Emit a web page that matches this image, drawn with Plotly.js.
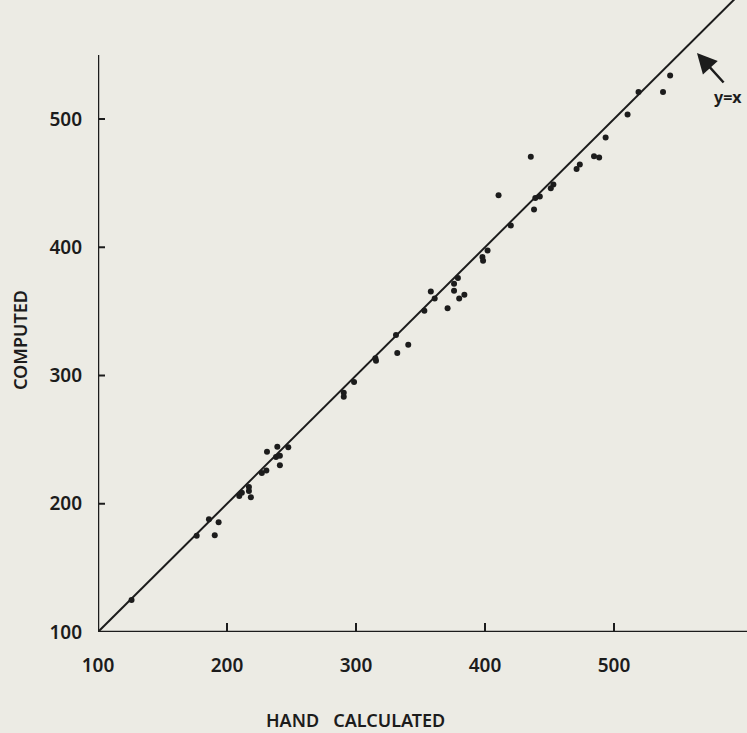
<!DOCTYPE html>
<html>
<head>
<meta charset="utf-8">
<script src="https://cdn.plot.ly/plotly-3.0.1.min.js"></script>
<style>
  html, body { margin: 0; padding: 0; background: #ecebe4; }
  #chart { width: 747px; height: 733px; }
</style>
</head>
<body>
<div id="chart"></div>
<script>
// Hand-calculated values (x) and computed values (y)
const handCalculated = [
  126, 176.5, 186, 193.5, 190.5, 209.5, 211.5, 217, 217, 218.5,
  227, 230.5, 231, 239, 238, 241, 241, 247.5, 290.5, 290.5,
  298.5, 315, 315.5, 331, 332, 340.5, 353, 358, 361, 371,
  376, 376, 380, 384, 379, 398, 398.5, 402, 410.5, 420,
  438, 439, 442.5, 453, 451, 435.5, 471, 473.5, 484.5, 488.5,
  493.5, 510.5, 519, 538, 543.5
];
const computed = [
  125, 175, 188, 185.5, 175.5, 206, 208.5, 213, 210, 205,
  224, 226, 240.5, 244.5, 236.5, 237.5, 230, 244, 286.5, 283.5,
  295, 313.5, 311.5, 331.5, 317.5, 324, 350.5, 365.5, 360, 352.5,
  371.5, 366, 360, 363, 376, 392.5, 389.5, 397.5, 440.5, 417,
  429.5, 438.5, 439.5, 449, 446, 470.5, 461, 464.5, 471, 470,
  485.5, 503.5, 521, 521, 534
];
// reference line y = x
const identityLine = [100, 605];
const tickValues = [100, 200, 300, 400, 500];
const tickLabels = ['100', '200', '300', '400', '500'];

const ink = '#1c1c1c';
const paper = '#ecebe4';
const fam = 'Noto Sans, DejaVu Sans, Arial, sans-serif';

const traces = [
  {
    x: identityLine, y: identityLine, mode: 'lines', type: 'scatter',
    line: { color: ink, width: 2 }, hoverinfo: 'skip', cliponaxis: true
  },
  {
    x: handCalculated, y: computed, mode: 'markers', type: 'scatter',
    marker: { color: ink, size: 6 }, cliponaxis: false
  }
];

// axis lines and tick marks as shapes
const shapes = [
  { type: 'line', xref: 'x', yref: 'y', x0: 100, x1: 603.1, y0: 100, y1: 100,
    line: { color: ink, width: 2.5 } },
  { type: 'line', xref: 'x', yref: 'y', x0: 100, x1: 100, y0: 100, y1: 550,
    line: { color: ink, width: 2.5 } }
];
tickValues.slice(1).forEach(v => {
  shapes.push({ type: 'line', xref: 'x', yref: 'paper', x0: v, x1: v, y0: 0, y1: 9 / 632,
    line: { color: ink, width: 2 } });
  shapes.push({ type: 'line', xref: 'paper', yref: 'y', x0: 0, x1: 7 / 649, y0: v, y1: v,
    line: { color: ink, width: 2 } });
});

const layout = {
  width: 747, height: 733,
  paper_bgcolor: paper, plot_bgcolor: paper,
  showlegend: false,
  margin: { l: 98, r: 0, t: 0, b: 101, pad: 0 },
  font: { family: fam, color: ink },
  xaxis: {
    range: [100, 603.1], showgrid: false, zeroline: false, showline: false,
    tickmode: 'array', tickvals: tickValues, ticktext: tickLabels,
    ticks: '', ticklabelstandoff: 20,
    tickfont: { size: 19, color: ink, family: fam, weight: 600 }
  },
  yaxis: {
    range: [100, 592.8], showgrid: false, zeroline: false, showline: false,
    tickmode: 'array', tickvals: tickValues, ticktext: tickLabels,
    ticks: '', ticklabelstandoff: 15,
    tickfont: { size: 19, color: ink, family: fam, weight: 600 }
  },
  shapes: shapes,
  annotations: [
    { xref: 'paper', yref: 'paper', x: (355 - 98) / 649, y: -0.14,
      text: 'HAND\u00a0\u00a0\u00a0CALCULATED', showarrow: false,
      font: { size: 18, color: ink, family: fam, weight: 600 },
      xanchor: 'center', yanchor: 'middle' },
    { xref: 'paper', yref: 'paper', x: (20 - 98) / 649, y: (632 - 340) / 632,
      text: 'COMPUTED', showarrow: false, textangle: -90,
      font: { size: 18, color: ink, family: fam, weight: 600 },
      xanchor: 'center', yanchor: 'middle' },
    { xref: 'x', yref: 'y', x: 564.3, y: 551.5, text: '', showarrow: true,
      ax: 28, ay: 31, arrowhead: 2, arrowsize: 1.6, arrowwidth: 2.5, arrowcolor: ink },
    { xref: 'x', yref: 'y', x: 588, y: 517, text: 'y=x', showarrow: false,
      font: { size: 16, color: ink, family: fam, weight: 700 },
      xanchor: 'center', yanchor: 'middle' }
  ]
};

Plotly.newPlot('chart', traces, layout, { displayModeBar: false, staticPlot: true });
</script>
</body>
</html>
